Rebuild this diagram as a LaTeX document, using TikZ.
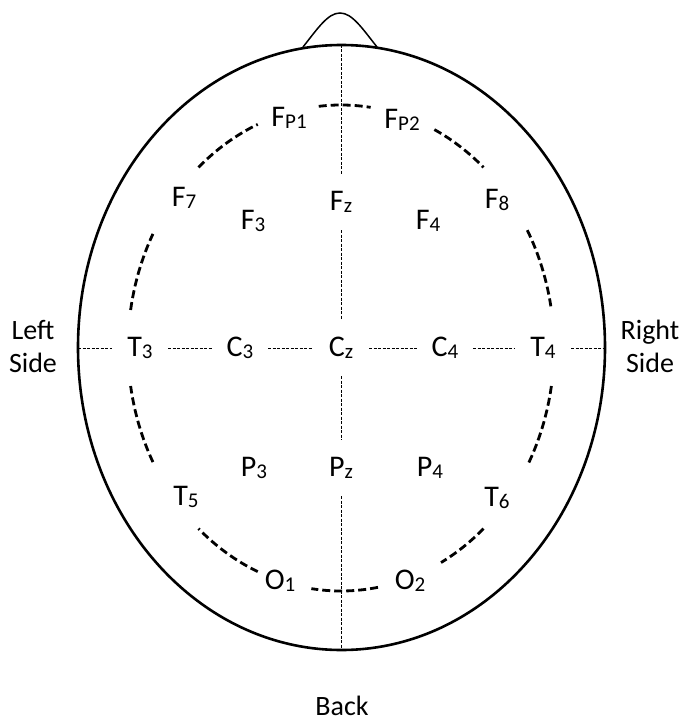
\documentclass[tikz,border=0pt]{standalone}
\usepackage{fontspec}
\setmainfont{Carlito}
\newcommand{\elec}[2]{#1{\fontsize{21}{21}\selectfont\raisebox{-1.5pt}{#2}}}
\tikzset{
  lbl/.style={circle, minimum size=56pt, inner sep=0pt, font=\fontsize{30}{30}\selectfont},
  side/.style={align=center, inner sep=1pt, font=\fontsize{28}{33}\selectfont},
  guide/.style={line width=1pt, dash pattern=on 3pt off 1.5pt},
  ring/.style={line width=2.8pt, dash pattern=on 8pt off 4pt}
}
\begin{document}
\begin{tikzpicture}[x=1pt, y=-1pt]

% Frame
\useasboundingbox (0,0) rectangle (683,722);

% Parameters
\def\rx{213}   % ring, horizontal radius
\def\ry{243}   % ring, vertical radius

% Head and nose
\draw[line width=2.6pt] (341.5,347.5) ellipse [x radius=263.5, y radius=302.5];
\draw[line width=1.5pt]
(303,47) .. controls (318,28) and (328,13) .. (340,13)
         .. controls (352,13) and (362,28) .. (377,47);

% Points
\coordinate (O) at (341,348);
\coordinate (top) at (341,45);
\coordinate (bot) at (341,650);
\coordinate (lft) at (78,348);
\coordinate (rgt) at (605,348);

% Electrodes
\node[lbl] (Fp1) at (289,118) {\elec{F}{P1}};
\node[lbl] (Fp2) at (402,120) {\elec{F}{P2}};
\node[lbl] (F7) at (184,198) {\elec{F}{7}};
\node[lbl] (F3) at (253,221) {\elec{F}{3}};
\node[lbl] (Fz) at (341,202) {\elec{F}{z}};
\node[lbl] (F4) at (428,221) {\elec{F}{4}};
\node[lbl] (F8) at (497,200) {\elec{F}{8}};
\node[lbl] (T3) at (140,348) {\elec{T}{3}};
\node[lbl] (C3) at (240,348) {\elec{C}{3}};
\node[lbl] (Cz) at (341,348) {\elec{C}{z}};
\node[lbl] (C4) at (445,348) {\elec{C}{4}};
\node[lbl] (T4) at (543,348) {\elec{T}{4}};
\node[lbl] (P3) at (254,468) {\elec{P}{3}};
\node[lbl] (Pz) at (341,468) {\elec{P}{z}};
\node[lbl] (P4) at (430,468) {\elec{P}{4}};
\node[lbl] (T5) at (186,497) {\elec{T}{5}};
\node[lbl] (T6) at (497,498) {\elec{T}{6}};
\node[lbl] (O1) at (280,581) {\elec{O}{1}};
\node[lbl] (O2) at (410,581) {\elec{O}{2}};

% Midlines
\foreach \p/\q in {top/Fz, Fz/Cz, Cz/Pz, Pz/bot, lft/T3, T3/C3, C3/Cz, Cz/C4, C4/T4, T4/rgt}
  \draw[guide] (\p) -- (\q);

% Dashed ring
\foreach \a/\b in {264/278, 228/247, 189/208, 152/171, 113/132, 80/98, 48/62, 9/29, 331/351, 296/312}
  \draw[ring] ([shift={(\a:{\rx} and {\ry})}]O) arc[start angle=\a, end angle=\b, x radius=\rx, y radius=\ry];

% Sides
\node[side] (left) at (33,346) {Left\\Side};
\node[side] (right) at (650,346) {Right\\Side};
\node[side] (back) at (342,706) {Back};

\end{tikzpicture}
\end{document}
